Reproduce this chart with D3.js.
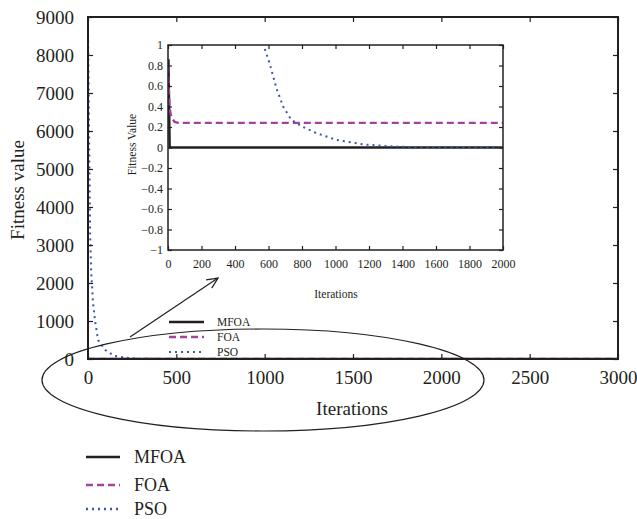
<!DOCTYPE html>
<html>
<head>
<meta charset="utf-8">
<script src="https://d3js.org/d3.v7.min.js"></script>
<style>
  body { margin:0; background:#fff; }
  text { font-family: "Liberation Serif", "DejaVu Serif", serif; fill:#231f20; }
</style>
</head>
<body>
<svg width="637" height="519"></svg>
<script>
// data
var mfoaIter = [0, 3, 10, 3000];
var mfoaVal  = [0.85, 0.85, 0, 0];
var foaIter  = [0, 5, 10, 20, 40, 60, 3000];
var foaVal   = [0.8, 0.55, 0.38, 0.29, 0.25, 0.24, 0.24];
var psoIter  = [0, 4, 8, 12, 18, 28, 40, 57, 96, 150, 250, 400, 570, 607, 647, 687, 736, 806, 886, 1005, 1164, 1343, 1500, 2000, 3000];
var psoVal   = [8700, 7000, 5000, 3300, 2300, 1500, 1000, 500, 240, 80, 12, 3, 1.0, 0.82, 0.58, 0.40, 0.27, 0.2, 0.14, 0.075, 0.03, 0.01, 0.003, 0, 0];
var mainXTicks = [0, 500, 1000, 1500, 2000, 2500, 3000];
var mainYTicks = [0, 1000, 2000, 3000, 4000, 5000, 6000, 7000, 8000, 9000];
var insetXTicks = d3.range(0, 2001, 200);
var insetYTicks = [-1, -0.8, -0.6, -0.4, -0.2, 0, 0.2, 0.4, 0.6, 0.8, 1];
var names = ["MFOA", "FOA", "PSO"];

var series = [
  {name:"MFOA", pts:d3.zip(mfoaIter, mfoaVal), color:"#231f20", dash:null, w:2.4},
  {name:"FOA",  pts:d3.zip(foaIter, foaVal),  color:"#a2439c", dash:"7,4", w:2.4},
  {name:"PSO",  pts:d3.zip(psoIter, psoVal),  color:"#3b57a8", dash:"2,4", w:2}
];

var fmt = function(d){ return d < 0 ? "\u2212" + String(-d) : String(d); };

var svg = d3.select("svg");

function styleAxis(g, fs){
  g.select(".domain").remove();
  g.selectAll(".tick line").attr("stroke","#231f20").attr("stroke-width",1.2);
  g.selectAll(".tick text").attr("font-size",fs).attr("font-family","Liberation Serif, serif").attr("fill","#231f20");
}

// ---------- main chart ----------
var m = {left:88, right:618, top:17, bottom:359};
var x = d3.scaleLinear().domain([0,3000]).range([m.left, m.right]);
var y = d3.scaleLinear().domain([0,9000]).range([m.bottom, m.top]);

svg.append("clipPath").attr("id","clipMain").append("rect")
  .attr("x",m.left).attr("y",m.top).attr("width",m.right-m.left).attr("height",m.bottom-m.top);

var lineMain = d3.line().x(function(d){return x(d[0]);}).y(function(d){return y(d[1]);});
var gm = svg.append("g").attr("clip-path","url(#clipMain)");
series.forEach(function(s){
  gm.append("path").attr("d", lineMain(s.pts)).attr("fill","none")
    .attr("stroke", s.color).attr("stroke-width", s.w)
    .attr("stroke-dasharray", s.dash);
});

svg.append("g").attr("transform","translate(0,"+m.bottom+")")
  .call(d3.axisBottom(x).tickValues(mainXTicks).tickSizeInner(-5).tickSizeOuter(0).tickPadding(12).tickFormat(fmt))
  .call(styleAxis, 19);
svg.append("g").attr("transform","translate(0,"+m.top+")")
  .call(d3.axisTop(x).tickValues(mainXTicks).tickSizeInner(-5).tickSizeOuter(0).tickFormat(""))
  .call(styleAxis, 19);
svg.append("g").attr("transform","translate("+m.left+",0)")
  .call(d3.axisLeft(y).tickValues(mainYTicks).tickSizeInner(-5).tickSizeOuter(0).tickPadding(14).tickFormat(fmt))
  .call(styleAxis, 19);
svg.append("g").attr("transform","translate("+m.right+",0)")
  .call(d3.axisRight(y).tickValues(mainYTicks).tickSizeInner(-5).tickSizeOuter(0).tickFormat(""))
  .call(styleAxis, 19);
svg.append("rect").attr("x",m.left).attr("y",m.top).attr("width",m.right-m.left).attr("height",m.bottom-m.top)
  .attr("fill","none").attr("stroke","#231f20").attr("stroke-width",2);

svg.append("text").attr("transform","translate(24,"+((m.top+m.bottom)/2+2)+") rotate(-90)")
  .attr("text-anchor","middle").attr("font-size",19).text("Fitness value");
svg.append("text").attr("x",352).attr("y",415).attr("text-anchor","middle").attr("font-size",19).text("Iterations");

// inner legend (small)
var lg = svg.append("g");
names.forEach(function(n,i){
  var s = series[i];
  var yy = 322 + i*15;
  lg.append("line").attr("x1",169).attr("x2",204).attr("y1",yy).attr("y2",yy)
    .attr("stroke",s.color).attr("stroke-width",s.w).attr("stroke-dasharray",s.dash);
  lg.append("text").attr("x",217).attr("y",yy+4).attr("font-size",11.5).text(n);
});

// ---------- inset ----------
var n = {left:168, right:503, top:45, bottom:250};
var xi = d3.scaleLinear().domain([0,2000]).range([n.left, n.right]);
var yi = d3.scaleLinear().domain([-1,1]).range([n.bottom, n.top]);

svg.append("rect").attr("x",n.left).attr("y",n.top).attr("width",n.right-n.left).attr("height",n.bottom-n.top)
  .attr("fill","#fff");
svg.append("clipPath").attr("id","clipInset").append("rect")
  .attr("x",n.left).attr("y",n.top).attr("width",n.right-n.left).attr("height",n.bottom-n.top);
var lineInset = d3.line().x(function(d){return xi(d[0]);}).y(function(d){return yi(d[1]);});
var gi = svg.append("g").attr("clip-path","url(#clipInset)");
series.forEach(function(s){
  gi.append("path").attr("d", lineInset(s.pts)).attr("fill","none")
    .attr("stroke", s.color).attr("stroke-width", s.w)
    .attr("stroke-dasharray", s.dash);
});

svg.append("g").attr("transform","translate(0,"+n.bottom+")")
  .call(d3.axisBottom(xi).tickValues(insetXTicks).tickSizeInner(-4).tickSizeOuter(0).tickPadding(9).tickFormat(fmt))
  .call(styleAxis, 12);
svg.append("g").attr("transform","translate(0,"+n.top+")")
  .call(d3.axisTop(xi).tickValues(insetXTicks).tickSizeInner(-4).tickSizeOuter(0).tickFormat(""))
  .call(styleAxis, 12);
svg.append("g").attr("transform","translate("+n.left+",0)")
  .call(d3.axisLeft(yi).tickValues(insetYTicks).tickSizeInner(-4).tickSizeOuter(0).tickPadding(5).tickFormat(fmt))
  .call(styleAxis, 12);
svg.append("g").attr("transform","translate("+n.right+",0)")
  .call(d3.axisRight(yi).tickValues(insetYTicks).tickSizeInner(-4).tickSizeOuter(0).tickFormat(""))
  .call(styleAxis, 12);
svg.append("rect").attr("x",n.left).attr("y",n.top).attr("width",n.right-n.left).attr("height",n.bottom-n.top)
  .attr("fill","none").attr("stroke","#231f20").attr("stroke-width",1.5);

svg.append("text").attr("transform","translate(136,"+((n.top+n.bottom)/2-3)+") rotate(-90)")
  .attr("text-anchor","middle").attr("font-size",11.5).text("Fitness Value");
svg.append("text").attr("x",336).attr("y",298).attr("text-anchor","middle").attr("font-size",11.5).text("Iterations");

// ---------- annotation: ellipse + arrow ----------
svg.append("defs").append("marker").attr("id","arr")
  .attr("markerUnits","userSpaceOnUse").attr("viewBox","0 -6 12 12")
  .attr("refX",11).attr("refY",0).attr("markerWidth",12).attr("markerHeight",12).attr("orient","auto")
  .append("path").attr("d","M0,-5L11,0L0,5").attr("fill","none").attr("stroke","#231f20").attr("stroke-width",1.3);
svg.append("line").attr("x1",130).attr("y1",337).attr("x2",218).attr("y2",278)
  .attr("stroke","#231f20").attr("stroke-width",1.2).attr("marker-end","url(#arr)");
svg.append("ellipse").attr("cx",263).attr("cy",380).attr("rx",221).attr("ry",51)
  .attr("fill","none").attr("stroke","#231f20").attr("stroke-width",1.2);

// ---------- bottom legend ----------
var bl = svg.append("g");
names.forEach(function(nm,i){
  var s = series[i];
  var yy = [457, 485, 509][i];
  bl.append("line").attr("x1",86).attr("x2",120).attr("y1",yy).attr("y2",yy)
    .attr("stroke",s.color).attr("stroke-width",s.w+0.3).attr("stroke-dasharray",s.dash);
  bl.append("text").attr("x",134).attr("y",yy+6).attr("font-size",18).text(nm);
});
</script>
</body>
</html>
